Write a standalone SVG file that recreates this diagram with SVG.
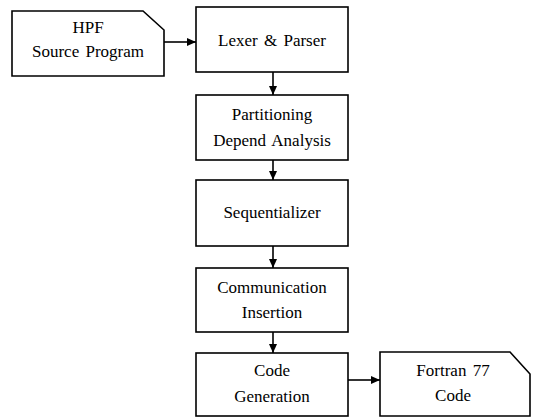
<svg xmlns="http://www.w3.org/2000/svg" width="533" height="418" viewBox="0 0 533 418">
<style>
.box{fill:#fff;stroke:#000;stroke-width:1.6}
.t{font-family:"Liberation Serif","Times New Roman",serif;font-size:17px;fill:#000;text-anchor:middle;word-spacing:2px}
.c{stroke:#000;stroke-width:1.6;fill:none}
</style>
<defs>
<marker id="ah" markerWidth="10" markerHeight="10" refX="9" refY="5" orient="auto" markerUnits="userSpaceOnUse">
<path d="M0,1 L9,5 L0,9 Z" fill="#000"/>
</marker>
</defs>
<rect width="533" height="418" fill="#fff"/>
<g id="hpf">
<path class="box" d="M12,11 H143 L164,30 V76 H12 Z"/>
<text class="t" x="88" y="33">HPF</text>
<text class="t" x="88" y="57">Source Program</text>
</g>
<g id="lexer">
<rect class="box" x="196" y="7" width="152" height="65"/>
<text class="t" x="272" y="46">Lexer &amp; Parser</text>
</g>
<g id="partition">
<rect class="box" x="196" y="95" width="152" height="65"/>
<text class="t" x="272" y="120">Partitioning</text>
<text class="t" x="272" y="146">Depend Analysis</text>
</g>
<g id="seq">
<rect class="box" x="196" y="180" width="152" height="66"/>
<text class="t" x="272" y="218">Sequentializer</text>
</g>
<g id="comm">
<rect class="box" x="196" y="268" width="152" height="64"/>
<text class="t" x="272" y="293">Communication</text>
<text class="t" x="272" y="318">Insertion</text>
</g>
<g id="codegen">
<rect class="box" x="196" y="353" width="152" height="63"/>
<text class="t" x="272" y="376">Code</text>
<text class="t" x="272" y="402">Generation</text>
</g>
<g id="fortran">
<path class="box" d="M380,352 H510 L530,374 V416 H380 Z"/>
<text class="t" x="453" y="376">Fortran 77</text>
<text class="t" x="453" y="401">Code</text>
</g>
<g id="connectors">
<line class="c" x1="164" y1="42" x2="196" y2="42" marker-end="url(#ah)"/>
<line class="c" x1="273" y1="72" x2="273" y2="95" marker-end="url(#ah)"/>
<line class="c" x1="273" y1="160" x2="273" y2="180" marker-end="url(#ah)"/>
<line class="c" x1="273" y1="246" x2="273" y2="268" marker-end="url(#ah)"/>
<line class="c" x1="273" y1="332" x2="273" y2="353" marker-end="url(#ah)"/>
<line class="c" x1="348" y1="380" x2="380" y2="380" marker-end="url(#ah)"/>
</g>
</svg>
